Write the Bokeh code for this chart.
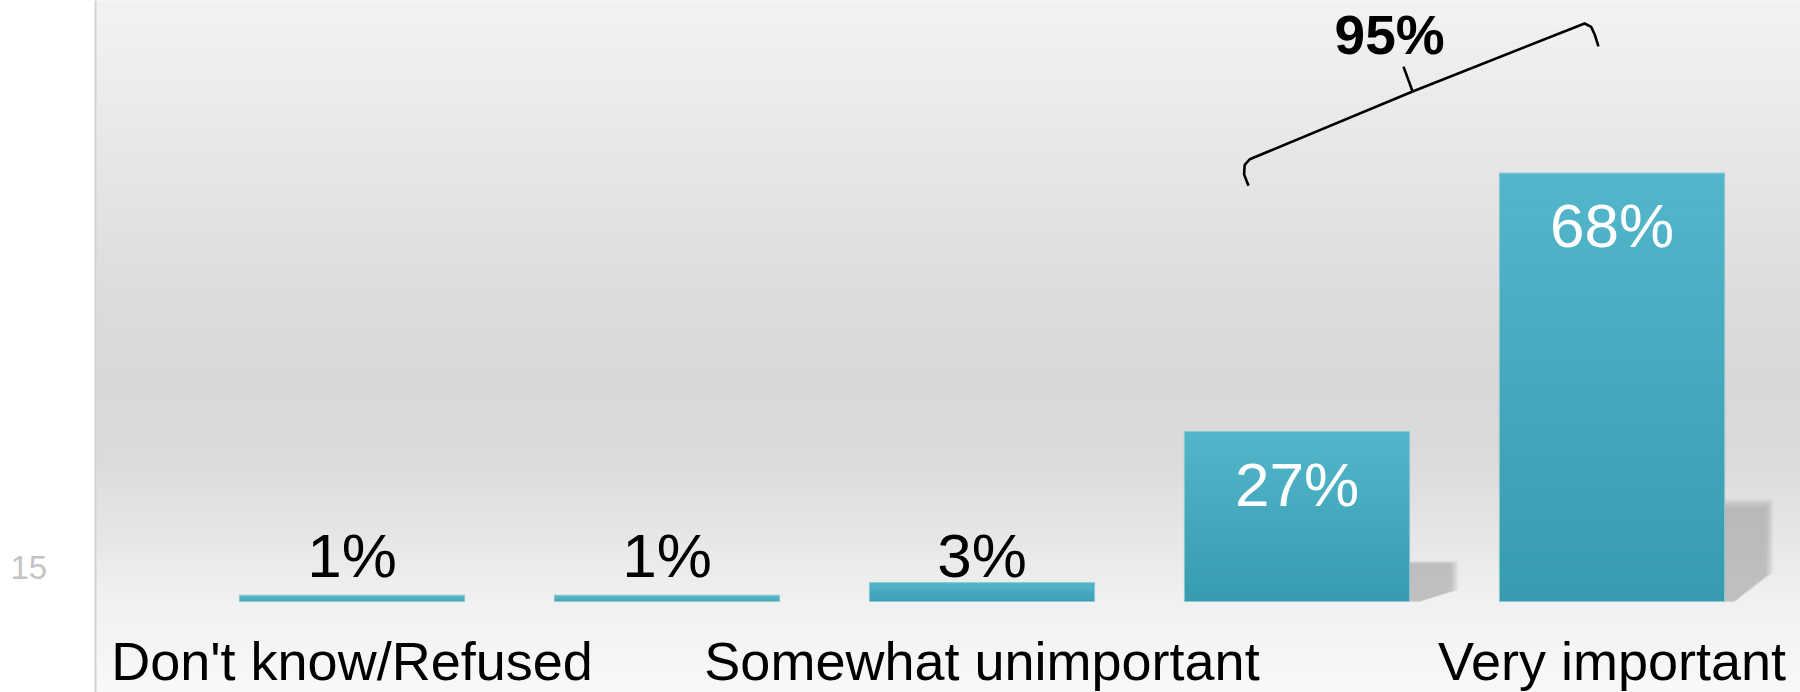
import numpy as np
from bokeh.plotting import figure
from bokeh.models import Range1d
from bokeh.core.properties import value
from bokeh.embed import file_html
from bokeh.resources import INLINE

# ---------------- data ----------------
categories = ["Don't know/Refused", "Very unimportant", "Somewhat unimportant",
              "Somewhat important", "Very important"]
values = [1, 1, 3, 27, 68]
shown_label_idx = [0, 2, 4]          # the chart prints every other category label
bracket_idx = [3, 4]                 # categories grouped by the bracket
slide_number = "15"

# ---------------- geometry / style ----------------
W, H = 1800, 692
PX_X = 315.0           # px per category
PX_Y = 6.3             # px per percent
CX0 = 351.5            # canvas x of category 0
BASE = 601             # canvas y (from top) of the zero line
X0 = -CX0 / PX_X
X1 = (W - CX0) / PX_X
Y1 = BASE / PX_Y
Y0 = -(H - BASE) / PX_Y
BAR_W = 0.715
FONT = "Liberation Sans"
TXT_SHIFT = 0.33       # em; compensates the renderer's baseline placement

def lift(fs):
    return TXT_SHIFT * fs / PX_Y

p = figure(width=W, height=H, x_range=Range1d(X0, X1), y_range=Range1d(Y0, Y1),
           output_backend="svg", toolbar_location=None,
           x_axis_location=None, y_axis_location=None,
           min_border=0, min_border_left=0, min_border_right=0,
           min_border_top=0, min_border_bottom=0)
p.grid.visible = False
p.outline_line_color = None
p.background_fill_color = "white"
p.border_fill_color = "white"

def hex2rgb(h):
    h = h.lstrip("#")
    return np.array([int(h[i:i + 2], 16) for i in (0, 2, 4)], dtype=float)

def rgb2hex(c):
    return "#%02x%02x%02x" % tuple(int(round(v)) for v in c)

# ---------------- background panel gradient ----------------
panel_left = (96 - CX0) / PX_X
stops_y = [Y0 - 0.5, 0.0, 9.7, 22.4, 35.1, 47.8, 71.6, Y1 + 0.5]
stops_c = ["#f9f9f9", "#f1f1f1", "#e7e7e7", "#dbdbdb", "#d8d8d8", "#dcdcdc", "#e7e7e7", "#f3f3f3"]
stops_rgb = np.array([hex2rgb(c) for c in stops_c])
NS = 160
edges = np.linspace(stops_y[0], stops_y[-1], NS + 1)
mids = (edges[:-1] + edges[1:]) / 2
bg_cols = [rgb2hex([np.interp(m, stops_y, stops_rgb[:, k]) for k in range(3)]) for m in mids]
tops = list(edges[2:]) + [edges[-1]]
p.quad(left=panel_left, right=X1 + 0.1, bottom=edges[:-1], top=tops,
       fill_color=bg_cols, line_color=None)
p.segment(x0=[panel_left - 0.003], y0=[Y0 - 1], x1=[panel_left - 0.003], y1=[Y1 + 1],
          line_color="#d2d2d2", line_width=2)

# ---------------- shadows (soft, layered) ----------------
for i, v in enumerate(values):
    if v < 5:
        continue
    xr = i + BAR_W / 2
    sh = 0.24 * v
    layers = 8
    for j in range(layers):
        s = 1.0 - 0.09 * j
        sw = 0.155 * (0.75 + 0.25 * s)
        top = sh * (0.86 + 0.14 * s)
        xs = [xr, xr, xr + sw, xr + sw, xr + sw * 0.22, xr]
        ys = [0, top, top, top * 0.28, 0, 0]
        p.patch(xs, ys, fill_color="#808080", fill_alpha=0.065, line_color=None)

# ---------------- bars (vertical gradient) ----------------
NB = 40
c_bot, c_top = hex2rgb("#379cb0"), hex2rgb("#53b6cb")
ql, qr, qb, qt, qc = [], [], [], [], []
for i, v in enumerate(values):
    for k in range(NB):
        f = (k + 0.5) / NB
        ql.append(i - BAR_W / 2)
        qr.append(i + BAR_W / 2)
        qb.append(v * k / NB)
        qt.append(v * min(k + 2, NB) / NB)
        qc.append(rgb2hex(c_bot + (c_top - c_bot) * f))
p.quad(left=ql, right=qr, bottom=qb, top=qt, fill_color=qc, line_color=None)
p.vbar(x=list(range(len(values))), top=values, width=BAR_W, bottom=0,
       fill_alpha=0, line_color="#8ccad6", line_width=1)

# ---------------- value labels ----------------
INSIDE_MIN = 10
VAL_FS = 62
out_x = [i for i, v in enumerate(values) if v < INSIDE_MIN]
out_t = [f"{v}%" for v in values if v < INSIDE_MIN]
in_x = [i for i, v in enumerate(values) if v >= INSIDE_MIN]
in_y = [v - 11.6 + lift(VAL_FS) for v in values if v >= INSIDE_MIN]
in_t = [f"{v}%" for v in values if v >= INSIDE_MIN]
p.text(x=out_x, y=[4.1 + lift(VAL_FS)] * len(out_x), text=out_t, text_font=value(FONT),
       text_font_size=f"{VAL_FS}px", text_align="center", text_baseline="alphabetic",
       text_color="black")
p.text(x=in_x, y=in_y, text=in_t, text_font=value(FONT),
       text_font_size=f"{VAL_FS}px", text_align="center", text_baseline="alphabetic",
       text_color="white")

# ---------------- category labels ----------------
CAT_FS = 54
p.text(x=shown_label_idx, y=[-12.35 + lift(CAT_FS)] * len(shown_label_idx),
       text=[categories[i] for i in shown_label_idx], text_font=value(FONT),
       text_font_size=f"{CAT_FS}px", text_align="center", text_baseline="alphabetic",
       text_color="black")

# ---------------- bracket with total ----------------
a, b = bracket_idx
bx = [a - 0.154, a - 0.168, a - 0.166, a - 0.150, a + 0.367, b - 0.087, b - 0.066, b - 0.055, b - 0.043]
by = [66.0, 67.8, 69.3, 70.2, 80.95, 91.75, 91.2, 90.0, 88.1]
p.line(bx, by, line_color="black", line_width=2.6)
p.line([a + 0.367, a + 0.338], [80.95, 84.9], line_color="black", line_width=2.6)
total = sum(values[i] for i in bracket_idx)
TOT_FS = 55
p.text(x=[a + 0.294], y=[87.0 + lift(TOT_FS)], text=[f"{total}%"], text_font=value(FONT),
       text_font_size=f"{TOT_FS}px", text_font_style="bold", text_align="center",
       text_baseline="alphabetic", text_color="black")

# ---------------- slide number ----------------
NUM_FS = 33
p.text(x=[(10 - CX0) / PX_X], y=[(BASE - 579) / PX_Y + lift(NUM_FS) + 0.2], text=[slide_number],
       text_font=value(FONT), text_font_size=f"{NUM_FS}px", text_align="left",
       text_baseline="alphabetic", text_color="#c4c4c4")

open("out.html", "w").write(file_html(p, INLINE))
